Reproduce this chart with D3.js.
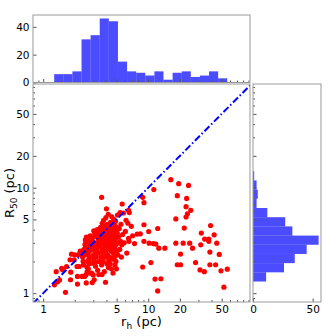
<!DOCTYPE html>
<html><head><meta charset="utf-8">
<script src="https://cdn.jsdelivr.net/npm/d3@7"></script>
<style>body{margin:0;background:#fff}svg{display:block;font-family:"DejaVu Sans",sans-serif}</style>
</head><body><svg id="c" width="336" height="336"></svg>
<script>
// ---- data ----
const rh = [
1.28,1.33,1.37,1.43,1.50,1.53,
1.63,1.67,1.82,1.83,1.86,1.80,
2.00,2.15,1.97,2.10,2.20,2.12,2.12,2.25,
2.35,2.37,2.40,2.45,2.48,2.50,2.52,2.55,2.57,2.60,2.61,2.62,2.65,2.66,2.68,2.70,2.72,2.74,2.75,2.77,2.78,2.80,2.81,2.36,2.42,2.47,2.53,2.58,2.63,2.69,2.80,
2.85,2.88,2.90,2.93,2.95,2.97,2.99,3.00,3.02,3.05,3.06,3.08,3.10,3.12,3.15,3.17,3.20,3.22,3.25,3.27,3.30,3.32,3.35,3.37,3.40,3.42,3.44,2.87,2.92,3.03,3.13,3.28,3.38,3.18,
3.50,3.52,3.55,3.57,3.60,3.60,3.62,3.65,3.67,3.70,3.72,3.74,3.76,3.78,3.80,3.82,3.84,3.86,3.88,3.90,3.92,3.93,3.95,3.97,3.99,4.00,4.02,4.04,4.06,4.08,4.10,4.12,4.14,4.16,4.18,4.20,4.21,3.48,3.58,3.68,3.79,3.89,4.01,4.11,3.63,3.85,
4.25,4.27,4.30,4.32,4.35,4.37,4.40,4.42,4.44,4.46,4.48,4.50,4.52,4.54,4.56,4.58,4.60,4.62,4.64,4.66,4.68,4.70,4.72,4.74,4.76,4.78,4.80,4.82,4.84,4.86,4.88,4.90,4.92,4.94,4.96,4.98,5.00,5.02,5.05,5.08,5.10,5.12,5.14,4.33,
5.20,5.30,5.35,5.40,5.45,5.50,5.55,5.60,5.65,5.70,5.80,5.90,6.05,6.15,6.25,
6.40,6.50,6.50,6.55,6.60,6.90,7.10,7.40,
8.85,9.10,9.10,7.85,9.10,8.85,8.40,
11.3,10.1,10.2,10.6,11.2,
12.3,11.8,12.6,13.2,12.3,11.6,
14.4,16.4,
19.5,18.9,18.3,18.3,20.3,18.9,20.3,
24.2,23.2,22.9,25.4,23.6,22.9,22.0,21.5,24.8,
26.4,28.2,31.1,
31.6,32.0,34.4,37.7,37.7,34.2,
39.2,42.4,44.9,38.6,38.6,43.8,
47.4,49.2,56.5,52.5
];
const r50 = [
1.20,1.60,1.28,1.33,1.72,1.67,
1.02,1.79,1.34,1.58,2.34,2.07,
2.31,2.31,2.07,1.79,1.79,1.44,1.22,2.50,
1.44,2.20,2.00,2.60,1.44,2.90,3.20,1.49,1.25,2.35,1.77,1.60,2.00,2.75,2.33,3.00,2.10,1.90,3.30,2.52,1.55,2.85,2.20,2.50,1.85,2.30,2.70,3.40,2.45,1.70,3.50,
1.93,2.60,1.55,1.26,3.10,1.93,1.49,2.30,3.40,2.10,1.34,2.80,3.70,2.45,1.80,3.00,2.20,3.50,2.65,4.00,1.65,2.95,2.40,3.25,2.00,3.80,2.75,3.30,2.95,3.90,1.95,3.55,1.50,2.55,
2.90,4.20,2.20,3.50,8.10,1.85,3.10,4.60,2.60,3.80,2.00,3.30,4.90,2.40,3.00,1.60,3.60,2.80,4.30,2.20,1.27,3.20,5.20,2.50,3.90,6.30,2.90,1.90,3.40,4.50,2.30,3.10,2.65,5.60,1.75,3.70,2.05,3.60,2.45,3.15,4.05,2.70,3.55,4.00,1.50,3.40,
2.90,4.10,2.20,3.50,1.90,4.70,3.00,2.50,3.80,1.70,3.30,5.30,2.70,4.30,2.10,3.60,3.00,1.55,4.00,2.40,3.20,5.00,2.80,3.70,2.20,4.40,3.10,1.85,3.50,2.60,4.80,3.30,2.00,3.90,2.90,1.70,3.40,4.20,2.50,3.70,5.50,3.00,2.30,3.20,
3.40,4.10,2.60,5.80,3.10,4.50,2.20,2.87,7.00,3.60,5.75,3.00,3.85,4.90,2.40,
4.60,6.10,3.30,3.10,5.80,4.30,3.50,2.95,
8.10,7.20,4.45,3.63,3.10,1.77,3.65,
9.60,3.84,2.98,1.95,2.95,
4.10,2.92,2.67,1.37,1.05,1.36,
2.67,11.9,
10.9,8.40,5.05,2.98,2.35,1.86,1.86,
10.5,7.90,6.60,6.10,5.65,5.27,4.14,2.98,2.98,
2.67,1.95,1.66,
2.87,3.71,3.26,3.26,3.10,1.60,
4.38,3.57,2.98,2.45,1.86,1.86,
2.33,1.63,1.69,1.14
];
// histogram of r_h (log bins, counts)
const topCounts = [6,6,8,31,34,46,44,15,8,7,5,8,2,7,8,4,5,8,3];
const topRange = [1.273, 56.5];
// histogram of R50 (log bins, counts from lowest bin upward)
const rightCounts = [11,26,35,45,55,33,27,12,3,4,3,1];
const rightRange = [1.29, 14.3];
const logTicks = [1,5,10,20,50];
const logMinor = [0.9,2,3,4,6,7,8,9,30,40,60,70,80,90];
const topCountTicks = [0,20,40];
const rightCountTicks = [0,50];

// ---- layout ----
const svg = d3.select("#c");
const M = {l:33, r:250, t:84, b:302};
const T = {t:15, b:82.5};
const R = {l:253, r:321};
const spine = "#999";
const fs = 10.5;

const x = d3.scaleLog().domain([0.8, 93]).range([M.l, M.r]);
const y = d3.scaleLog().domain([0.825, 96]).range([M.b, M.t]);
const yTop = d3.scaleLinear().domain([0, 48.5]).range([T.b, T.t]);
const xRight = d3.scaleLinear().domain([0, 57]).range([R.l, R.r]);

function edges(range, n){
  const lo = Math.log10(range[0]), hi = Math.log10(range[1]);
  return d3.range(n+1).map(i => Math.pow(10, lo + (hi-lo)*i/n));
}
const tE = edges(topRange, topCounts.length);
const rE = edges(rightRange, rightCounts.length);

function styleAxis(g, labels){
  g.select(".domain").remove();
  g.selectAll("line").attr("stroke", "#555");
  g.selectAll("text").attr("font-size", fs).attr("fill", "#000").attr("font-family", "DejaVu Sans");
  if(!labels) g.selectAll("text").remove();
}

// ---- top histogram ----
svg.append("g").selectAll("rect").data(topCounts).join("rect")
  .attr("x", (d,i) => x(tE[i])).attr("width", (d,i) => x(tE[i+1]) - x(tE[i]))
  .attr("y", d => yTop(d)).attr("height", d => yTop(0) - yTop(d))
  .attr("fill", "#0000ff").attr("fill-opacity", 0.7);
svg.append("g").attr("transform", `translate(${M.l},0)`)
  .call(d3.axisLeft(yTop).tickValues(topCountTicks).tickSize(-3.5).tickPadding(3.5))
  .call(g => styleAxis(g, true));
svg.append("g").attr("transform", `translate(0,${T.b})`)
  .call(d3.axisBottom(x).tickValues(logTicks).tickSize(-3.5).tickFormat(""))
  .call(g => styleAxis(g, false));
svg.append("g").attr("transform", `translate(0,${T.b})`)
  .call(d3.axisBottom(x).tickValues(logMinor).tickSize(-2).tickFormat(""))
  .call(g => styleAxis(g, false));
svg.append("rect").attr("x", M.l).attr("y", T.t).attr("width", M.r - M.l).attr("height", T.b - T.t)
  .attr("fill", "none").attr("stroke", spine).attr("stroke-width", 1);

// ---- right histogram ----
svg.append("g").selectAll("rect").data(rightCounts).join("rect")
  .attr("y", (d,i) => y(rE[i+1])).attr("height", (d,i) => y(rE[i]) - y(rE[i+1]))
  .attr("x", R.l).attr("width", d => xRight(d) - R.l)
  .attr("fill", "#0000ff").attr("fill-opacity", 0.7);
svg.append("g").attr("transform", `translate(0,${M.b})`)
  .call(d3.axisBottom(xRight).tickValues(rightCountTicks).tickSize(-3.5).tickPadding(3.5))
  .call(g => styleAxis(g, true));
svg.append("g").attr("transform", `translate(${R.l},0)`)
  .call(d3.axisLeft(y).tickValues(logTicks).tickSize(-3.5).tickFormat(""))
  .call(g => styleAxis(g, false));
svg.append("g").attr("transform", `translate(${R.l},0)`)
  .call(d3.axisLeft(y).tickValues(logMinor).tickSize(-2).tickFormat(""))
  .call(g => styleAxis(g, false));
svg.append("rect").attr("x", R.l).attr("y", M.t).attr("width", R.r - R.l).attr("height", M.b - M.t)
  .attr("fill", "none").attr("stroke", spine).attr("stroke-width", 1);

// ---- main scatter ----
svg.append("defs").append("clipPath").attr("id", "clipM").append("rect")
  .attr("x", M.l).attr("y", M.t).attr("width", M.r - M.l).attr("height", M.b - M.t);
const pts = rh.map((v,i) => ({x:v, y:r50[i]}));
svg.append("g").selectAll("circle").data(pts).join("circle")
  .attr("cx", d => x(d.x)).attr("cy", d => y(d.y)).attr("r", 2.6)
  .attr("fill", "#ff0000");
const diag = [0.8, 96];
svg.append("path").attr("clip-path", "url(#clipM)")
  .attr("d", d3.line().x(d => x(d)).y(d => y(d))(diag))
  .attr("fill", "none").attr("stroke", "#0000ff").attr("stroke-width", 2)
  .attr("stroke-dasharray", "7,2.5,1.5,2.5");

svg.append("g").attr("transform", `translate(0,${M.b})`)
  .call(d3.axisBottom(x).tickValues(logTicks).tickSize(-3.5).tickPadding(3.5).tickFormat(d3.format("d")))
  .call(g => styleAxis(g, true));
svg.append("g").attr("transform", `translate(0,${M.b})`)
  .call(d3.axisBottom(x).tickValues(logMinor).tickSize(-2).tickFormat(""))
  .call(g => styleAxis(g, false));
svg.append("g").attr("transform", `translate(${M.l},0)`)
  .call(d3.axisLeft(y).tickValues(logTicks).tickSize(-3.5).tickPadding(3.5).tickFormat(d3.format("d")))
  .call(g => styleAxis(g, true));
svg.append("g").attr("transform", `translate(${M.l},0)`)
  .call(d3.axisLeft(y).tickValues(logMinor).tickSize(-2).tickFormat(""))
  .call(g => styleAxis(g, false));
svg.append("rect").attr("x", M.l).attr("y", M.t).attr("width", M.r - M.l).attr("height", M.b - M.t)
  .attr("fill", "none").attr("stroke", spine).attr("stroke-width", 1);

// ---- axis labels ----
const xl = svg.append("text").attr("x", (M.l + M.r)/2).attr("y", 326).attr("text-anchor", "middle")
  .attr("font-size", 13);
xl.append("tspan").text("r");
xl.append("tspan").attr("font-size", 9).attr("dy", 3).text("h");
xl.append("tspan").attr("dy", -3).text(" (pc)");
const yl = svg.append("text").attr("transform", `translate(13.5,${(M.t + M.b)/2}) rotate(-90)`)
  .attr("text-anchor", "middle").attr("font-size", 13);
yl.append("tspan").text("R");
yl.append("tspan").attr("font-size", 9).attr("dy", 3).text("50");
yl.append("tspan").attr("dy", -3).text(" (pc)");
</script></body></html>
